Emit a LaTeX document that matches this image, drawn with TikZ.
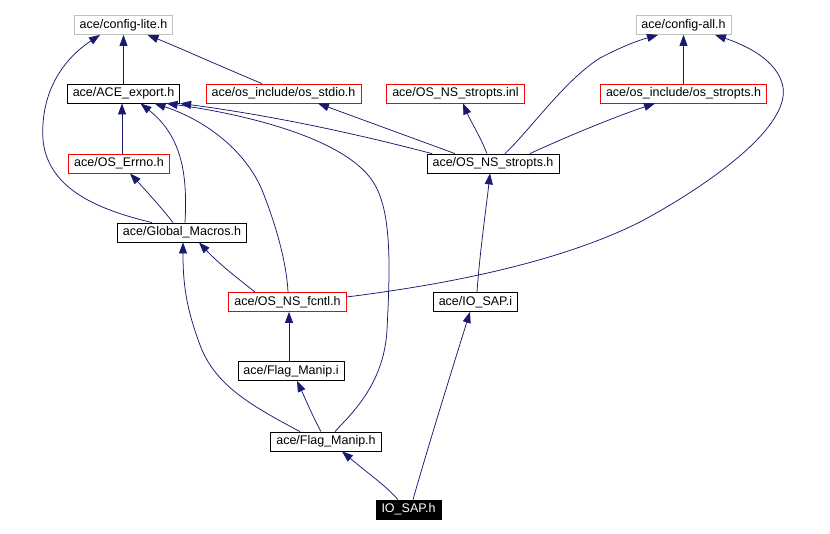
\documentclass[tikz,border=0pt]{standalone}
\usepackage{fontspec}
\setmainfont{Liberation Sans}
\usetikzlibrary{arrows.meta}
\definecolor{edgeblue}{HTML}{191970}
\definecolor{extgray}{HTML}{BFBFBF}
\begin{document}
\begin{tikzpicture}[x=1pt,y=-1pt,
  file/.style={draw=black,line width=0.8pt,inner xsep=5.5pt,inner ysep=0pt,minimum height=19pt,
    text height=9pt,text depth=2.5pt,font=\fontsize{12.5}{14}\selectfont},
  ext/.style={file,draw=extgray},
  undoc/.style={file,draw=red},
  self/.style={file,fill=black,text=white},
  dep/.style={draw=edgeblue,line width=0.75pt,-{Triangle[length=11pt,width=8pt]}}]
\useasboundingbox (0,0) rectangle (830,534);
\node[ext] (cl) at (123.5,25) {ace/config-lite.h};
\node[ext] (ca) at (683.5,25) {ace/config-all.h};
\node[file] (ace) at (123.5,93.5) {ace/ACE\_export.h};
\node[undoc] (stdio) at (283.5,93.5) {ace/os\_include/os\_stdio.h};
\node[undoc] (inl) at (455.5,93.5) {ace/OS\_NS\_stropts.inl};
\node[undoc] (osstr) at (683.5,93.5) {ace/os\_include/os\_stropts.h};
\node[undoc] (errno) at (119,163.5) {ace/OS\_Errno.h};
\node[file] (nsstr) at (493,163.5) {ace/OS\_NS\_stropts.h};
\node[file] (gm) at (182,232.5) {ace/Global\_Macros.h};
\node[undoc] (fcntl) at (287.5,302) {ace/OS\_NS\_fcntl.h};
\node[file] (sapi) at (475.5,302) {ace/IO\_SAP.i};
\node[file] (fmi) at (291,371) {ace/Flag\_Manip.i};
\node[file] (fmh) at (326,441.5) {ace/Flag\_Manip.h};
\node[self] (sap) at (408.5,509.5) {IO\_SAP.h};
\draw[dep] (ace.north) -- (cl.south);
\draw[dep] ([xshift=-21.5pt]stdio.north) .. controls (215,64) and (180,48) .. ([xshift=24pt]cl.south);
\draw[dep] ([xshift=-30pt]gm.north) .. controls (100,210) and (48,190) .. (43,140) .. controls (40,90) and (65,58) .. ([xshift=-23.5pt]cl.south);
\draw[dep] ([xshift=3pt]errno.north) -- ([xshift=-1.5pt]ace.south);
\draw[dep] ([xshift=-9pt]gm.north) .. controls (165,212) and (150,195) .. ([xshift=11pt]errno.south);
\draw[dep] ([xshift=3pt]gm.north) .. controls (188,170) and (180,135) .. ([xshift=17pt]ace.south);
\draw[dep] ([xshift=0.5pt]fcntl.north) .. controls (287,270) and (280,235) .. (262,190) .. controls (245,150) and (205,120) .. ([xshift=31pt]ace.south);
\draw[dep] ([xshift=9pt]fmh.north) .. controls (350,415) and (384,385) .. (387,330) .. controls (390,270) and (392,215) .. (375,185) .. controls (350,140) and (250,115) .. ([xshift=43pt]ace.south);
\draw[dep] ([xshift=-61pt]nsstr.north) .. controls (380,140) and (290,118) .. (ace.south east);
\draw[dep] ([xshift=-38pt]nsstr.north) -- ([xshift=34.5pt]stdio.south);
\draw[dep] ([xshift=-6pt]nsstr.north) .. controls (480,136) and (470,120) .. ([xshift=7.5pt]inl.south);
\draw[dep] ([xshift=12pt]nsstr.north) .. controls (530,130) and (565,80) .. (600,58) .. controls (625,45) and (640,40) .. ([xshift=-25.5pt]ca.south);
\draw[dep] ([xshift=37pt]nsstr.north) .. controls (570,135) and (620,115) .. ([xshift=-28.5pt]osstr.south);
\draw[dep] (osstr.north) -- (ca.south);
\draw[dep] ([xshift=-32.5pt]fcntl.north) .. controls (240,280) and (220,265) .. ([xshift=17pt]gm.south);
\draw[dep] ([yshift=5pt]fcntl.east) .. controls (450,284) and (560,262) .. (640,222) .. controls (700,190) and (790,130) .. (783,87) .. controls (778,60) and (745,45) .. ([xshift=31.5pt]ca.south);
\draw[dep] ([xshift=1.5pt]sapi.north) .. controls (480,250) and (486,210) .. ([xshift=-3pt]nsstr.south);
\draw[dep] ([xshift=-2pt]fmi.north) -- ([xshift=1.5pt]fcntl.south);
\draw[dep] ([xshift=-5pt]fmh.north) .. controls (312,415) and (305,398) .. ([xshift=6pt]fmi.south);
\draw[dep] ([xshift=-26pt]fmh.north) .. controls (250,405) and (215,385) .. (200,345) .. controls (185,305) and (183,280) .. ([xshift=1pt]gm.south);
\draw[dep] ([xshift=4.5pt]sap.north) .. controls (430,440) and (455,360) .. ([xshift=-5.5pt]sapi.south);
\draw[dep] ([xshift=-10.5pt]sap.north) .. controls (385,485) and (370,475) .. ([xshift=16pt]fmh.south);
\end{tikzpicture}
\end{document}
